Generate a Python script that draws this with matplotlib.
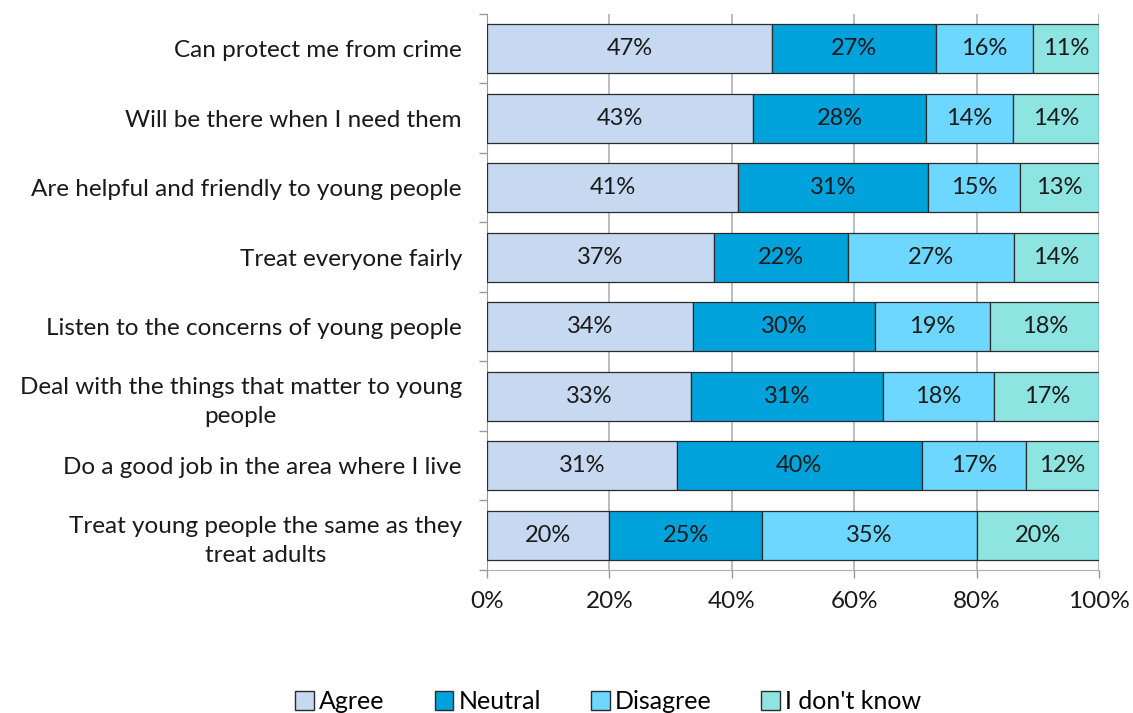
import numpy as np
import matplotlib.pyplot as plt
from matplotlib.patches import Patch

plt.rcParams['font.family'] = ['Lato', 'DejaVu Sans']

# ---------------- Daten ----------------
categories = [
    "Can protect me from crime",
    "Will be there when I need them",
    "Are helpful and friendly to young people",
    "Treat everyone fairly",
    "Listen to the concerns of young people",
    "Deal with the things that matter to young\npeople",
    "Do a good job in the area where I live",
    "Treat young people the same as they\ntreat adults",
]
agree = [47, 43, 41, 37, 34, 33, 31, 20]
neutral = [27, 28, 31, 22, 30, 31, 40, 25]
disagree = [16, 14, 15, 27, 19, 18, 17, 35]
dont_know = [11, 14, 13, 14, 18, 17, 12, 20]

series_names = ["Agree", "Neutral", "Disagree", "I don't know"]
colors = ["#C6D9F1", "#00A2DB", "#6DD7FF", "#8DE4E0"]

# ---------------- Berechnungen ----------------
data = np.array([agree, neutral, disagree, dont_know], dtype=float)
shares = data / data.sum(axis=0)  # auf 100% normieren

# ---------------- Plot ----------------
fig = plt.figure(figsize=(11.33, 7.13), dpi=100)
ax = fig.add_axes([0.4298, 0.2006, 0.5404, 0.780])

y = np.arange(len(categories))
left = np.zeros(len(categories))
for i, name in enumerate(series_names):
    ax.barh(y, shares[i], left=left, height=0.705, color=colors[i],
            edgecolor="#2b2b2b", linewidth=0.9, label=name, zorder=3)
    for yy, l, w, v in zip(y, left, shares[i], data[i]):
        ax.text(l + w / 2, yy, f"{int(v)}%", ha="center", va="center",
                fontsize=17, color="#1a1a1a", zorder=4)
    left += shares[i]

ax.set_ylim(len(categories) - 0.5, -0.5)
ax.set_xlim(0, 1)
ax.set_xticks(np.arange(0, 1.01, 0.2))
ax.set_xticklabels([f"{int(v * 100)}%" for v in np.arange(0, 1.01, 0.2)])
ax.set_yticks(y)
ax.set_yticklabels(categories, linespacing=1.45)
ax.set_yticks(np.arange(-0.5, len(categories)), minor=True)

ax.tick_params(axis="y", which="major", length=0, pad=18, labelsize=17.5, colors="#1a1a1a")
ax.tick_params(axis="y", which="minor", length=6, color="#999999", width=1)
ax.tick_params(axis="x", length=6, color="#999999", width=1, labelsize=17.5,
               colors="#1a1a1a", pad=9)
for lab in ax.get_yticklabels():
    lab.set_horizontalalignment("right")
    lab.set_multialignment("center")

ax.grid(axis="x", color="#b0b0b0", linewidth=1.2, zorder=0)
for s in ["top", "right"]:
    ax.spines[s].set_visible(False)
ax.spines["left"].set_color("#999999")
ax.spines["bottom"].set_color("#b0b0b0")

handles = [Patch(facecolor=c, edgecolor="#2b2b2b", label=n) for n, c in zip(series_names, colors)]
fig.legend(handles=handles, loc="center", bbox_to_anchor=(0.537, 0.016), ncol=4,
           frameon=False, fontsize=18, handlelength=0.75, handleheight=0.75,
           handletextpad=0.2, columnspacing=2.0, borderpad=0)

fig.savefig("out.png", dpi=100)
